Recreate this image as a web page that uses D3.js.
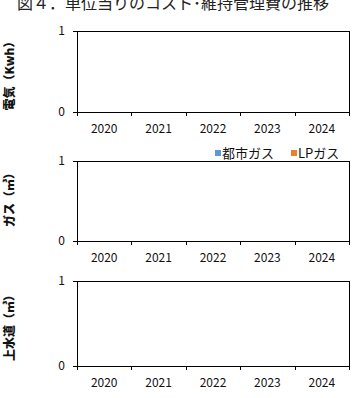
<!DOCTYPE html>
<html><head><meta charset="utf-8">
<script src="https://cdn.jsdelivr.net/npm/d3@7"></script>
<style>
html,body{margin:0;padding:0;background:#fff;}
svg{display:block;}
text{font-family:"Noto Sans CJK JP","Noto Sans",sans-serif;fill:#111;}
</style></head>
<body>
<svg id="chart" width="360" height="398"></svg>
<script>
const title = "図４．単位当りのコスト･維持管理費の推移";
const years = ["2020","2021","2022","2023","2024"];
const yTicks = [0, 1];
const electricity = [null, null, null, null, null];
const cityGas = [null, null, null, null, null];
const lpGas = [null, null, null, null, null];
const water = [null, null, null, null, null];
const legendNames = ["都市ガス", "LPガス"];
const legendColors = ["#5B9BD5", "#ED7D31"];

const svg = d3.select("#chart");
svg.append("text").attr("x", 173).attr("y", 9)
  .attr("text-anchor", "middle").style("font-size", "16px").style("fill", "#222")
  .text(title);

const x = d3.scaleBand().domain(years).range([77, 349]).paddingInner(0.5).paddingOuter(0.25);
const xEdge = d3.scaleLinear().domain([0, years.length]).range([77, 349]);

const panels = [
  {label: "電気（Kwh）", top: 31, bottom: 112, series: [electricity], colors: ["#5B9BD5"], labelY: 73},
  {label: "ガス（㎥）", top: 161, bottom: 241, series: [cityGas, lpGas], colors: legendColors, labelY: 197, legend: true},
  {label: "上水道（㎥）", top: 281, bottom: 366, series: [water], colors: ["#5B9BD5"], labelY: 325}
];

panels.forEach(p => {
  const g = svg.append("g");
  const y = d3.scaleLinear().domain([0, 1]).range([p.bottom, p.top]);
  g.append("rect").attr("x", 77).attr("y", p.top).attr("width", 272).attr("height", p.bottom - p.top)
    .attr("fill", "none").attr("stroke", "#000").attr("stroke-width", 1).attr("shape-rendering", "crispEdges");
  const sub = d3.scaleBand().domain(d3.range(p.series.length)).range([0, x.bandwidth()]);
  p.series.forEach((s, si) => {
    g.selectAll(null).data(s.map((v, i) => ({v, c: years[i]})).filter(d => d.v != null))
      .join("rect")
      .attr("x", d => x(d.c) + sub(si)).attr("width", sub.bandwidth())
      .attr("y", d => y(d.v)).attr("height", d => y(0) - y(d.v)).attr("fill", p.colors[si]);
  });
  const ya = g.append("g").attr("transform", "translate(77,0)")
    .call(d3.axisLeft(y).tickValues(yTicks).tickFormat(d3.format("d")).tickSize(4).tickPadding(8));
  ya.select(".domain").remove();
  ya.selectAll("line").attr("stroke", "#000").attr("shape-rendering", "crispEdges");
  ya.selectAll("text").style("font-size", "12px").style("fill", "#111");
  const xa = g.append("g").attr("transform", `translate(0,${p.bottom})`)
    .call(d3.axisBottom(xEdge).tickValues(d3.range(years.length + 1)).tickFormat("").tickSize(4));
  xa.select(".domain").remove();
  xa.selectAll("line").attr("stroke", "#000").attr("shape-rendering", "crispEdges");
  const xl = g.append("g").attr("transform", `translate(0,${p.bottom})`)
    .call(d3.axisBottom(x).tickSize(0).tickPadding(12));
  xl.select(".domain").remove();
  xl.selectAll("text").style("font-size", "12px").style("fill", "#111");
  g.append("text").attr("transform", `translate(14,${p.labelY}) rotate(-90)`)
    .attr("text-anchor", "middle").style("font-size", "12px").style("font-weight", "900")
    .text(p.label);
  if (p.legend) {
    const lg = g.append("g");
    const lx = [215, 291];
    legendNames.forEach((n, i) => {
      lg.append("rect").attr("x", lx[i]).attr("y", 150).attr("width", 6).attr("height", 6).attr("fill", legendColors[i]);
      lg.append("text").attr("x", lx[i] + 7).attr("y", 157.5).style("font-size", "13px").text(n);
    });
  }
});
</script>
</body></html>
